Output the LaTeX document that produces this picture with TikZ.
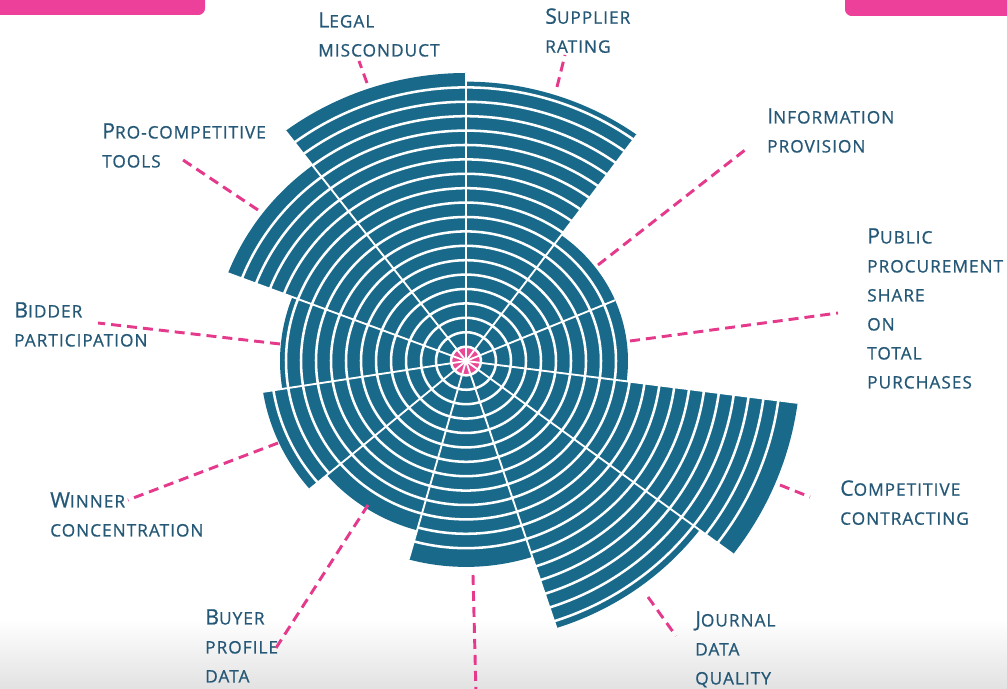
\documentclass[tikz,border=0pt]{standalone}
\usepackage{fontspec}
\setmainfont{Open Sans}
\newfontfamily\lblfont[LetterSpace=6,FakeBold=0.8]{Open Sans}
\definecolor{chartc}{RGB}{25,106,138}
\definecolor{labc}{RGB}{36,88,118}
\definecolor{dashc}{RGB}{229,58,140}
\definecolor{corec}{RGB}{232,72,150}
\definecolor{headc}{RGB}{236,64,155}
\definecolor{shadec}{RGB}{226,226,226}
\newcommand\BigInit[1]{{\fontsize{16}{21.75}\selectfont #1}}
\begin{document}
\begin{tikzpicture}[x=0.75pt,y=0.75pt,
  lab/.style={anchor=north west, inner sep=0pt, align=left, text=labc,
    font=\lblfont\fontsize{12.9}{21.75}\selectfont},
  pinkdash/.style={draw=dashc, line width=2.2pt, dash pattern=on 7.5pt off 4.5pt},
  ringline/.style={draw=white, line width=1.9pt},
  spokeline/.style={draw=white, line width=1.4pt},
  header/.style={fill=headc, rounded corners=5pt}]
\useasboundingbox (0,0) rectangle (1007,689);
\clip (0,0) rectangle (1007,689);
% bottom shade
\shade[top color=white, bottom color=shadec] (0,0) rectangle (1007,70);
% header tabs
\fill[header] (-10,674) rectangle (205,705);
\fill[header] (845,673) rectangle (1020,705);
% chart
\begin{scope}[shift={(466,328)}, xscale=15, yscale=14.4]
  \foreach \a/\b/\r in {54/90/19.4, 23/54/10.8, -7.5/23/10.8, -37/-7.5/22.3,
      -72/-37/19.5, -105.5/-72/14.3, -139.5/-105.5/12.2, -171/-139.5/13.7,
      -201/-171/12.4, -233/-201/17.0, -270/-233/20.0}{
    \fill[chartc] (0,0) -- (\a:\r) arc[start angle=\a, end angle=\b, radius=\r] -- cycle;
  }
  \fill[corec] (0,0) circle[radius=1];
  \foreach \a/\b/\r in {54/90/19.4, 23/54/10.8, -7.5/23/10.8, -37/-7.5/22.3,
      -72/-37/19.5, -105.5/-72/14.3, -139.5/-105.5/12.2, -171/-139.5/13.7,
      -201/-171/12.4, -233/-201/17.0, -270/-233/20.0}{
    \pgfmathtruncatemacro\n{\r-0.35}
    \foreach \k in {1,...,\n}{
      \draw[ringline] (\a:\k) arc[start angle=\a, end angle=\b, radius=\k];
    }
  }
  \foreach \t/\m in {90/20, 54/19.4, 23/10.8, -7.5/22.3, -37/22.3, -72/19.5,
      -105.5/14.3, -139.5/13.7, -171/13.7, -201/17, -233/20}{
    \draw[spokeline] (0,0) -- (\t:\m);
  }
\end{scope}
% labels
\node[lab] (legal) at (318,677) {\BigInit{L}EGAL\\MISCONDUCT};
\node[lab] (supplier) at (545,681) {\BigInit{S}UPPLIER\\RATING};
\node[lab] (info) at (767,581) {\BigInit{I}NFORMATION\\PROVISION};
\node[lab] (public) at (867,461) {\BigInit{P}UBLIC\\PROCUREMENT\\SHARE\\ON\\TOTAL\\PURCHASES};
\node[lab] (compet) at (840,209) {\BigInit{C}OMPETITIVE\\CONTRACTING};
\node[lab] (journal) at (695,78) {\BigInit{J}OURNAL\\DATA\\QUALITY};
\node[lab] (buyer) at (205,80) {\BigInit{B}UYER\\PROFILE\\DATA};
\node[lab] (winner) at (50,197) {\BigInit{W}INNER\\CONCENTRATION};
\node[lab] (bidder) at (14,387) {\BigInit{B}IDDER\\PARTICIPATION};
\node[lab] (procomp) at (102,566) {\BigInit{P}RO-COMPETITIVE\\TOOLS};
% connector ends
\coordinate (legalS) at (367,606);  \coordinate (legalE) at (359,628);
\coordinate (suppS) at (557,602);   \coordinate (suppE) at (565,634);
\coordinate (infoS) at (598,424);   \coordinate (infoE) at (745,539);
\coordinate (pubS) at (630,348);    \coordinate (pubE) at (838,376);
\coordinate (compS) at (780,204);   \coordinate (compE) at (810,192);
\coordinate (jourS) at (648,92);    \coordinate (jourE) at (676,53);
\coordinate (botS) at (473,114);    \coordinate (botE) at (476,-5);
\coordinate (buyS) at (368,184);    \coordinate (buyE) at (276,41);
\coordinate (winS) at (278,246);    \coordinate (winE) at (128,189);
\coordinate (bidS) at (280,345);    \coordinate (bidE) at (98,366);
\coordinate (proS) at (258,479);    \coordinate (proE) at (183,529);
\foreach \s/\e in {legalS/legalE, suppS/suppE, infoS/infoE, pubS/pubE,
    compS/compE, jourS/jourE, botS/botE, buyS/buyE, winS/winE, bidS/bidE, proS/proE}{
  \draw[pinkdash] (\s) -- (\e);
}
\end{tikzpicture}
\end{document}
